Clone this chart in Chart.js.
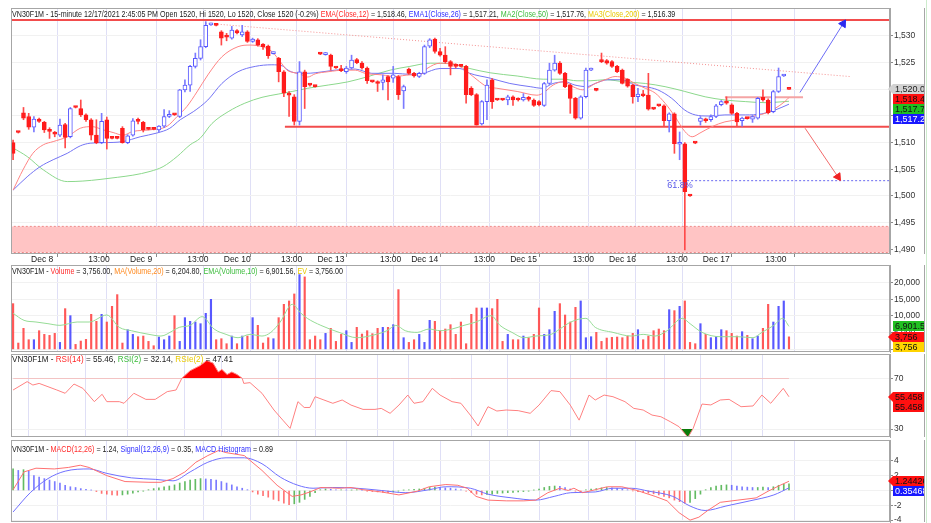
<!DOCTYPE html>
<html>
<head>
<meta charset="utf-8">
<title>VN30F1M 15-minute</title>
<script src="https://cdn.jsdelivr.net/npm/chart.js@4.4.1/dist/chart.umd.min.js"></script>
<style>
  html, body { margin: 0; padding: 0; background: #fff; }
  body { position: relative; width: 931px; height: 523px; overflow: hidden; font-family: "Liberation Sans", Arial, sans-serif; }
  canvas { position: absolute; left: 0; }
  .ttl { position: absolute; left: 12px; font-size: 9px; line-height: 10px; white-space: nowrap; color: #222; transform-origin: 0 0; }
  .r { color: #ff2a2a; } .b { color: #3030ff; } .g { color: #3cbc3c; } .y { color: #e8c800; } .o { color: #ff8a20; }
  #edge { position: absolute; left: 926px; top: 0; width: 1px; height: 523px; background: #cdeccd; }
</style>
</head>
<body>
<div id="edge"></div>
<canvas id="price" width="931" height="266" style="top:0"></canvas>
<canvas id="vol" width="931" height="88" style="top:265px"></canvas>
<canvas id="rsi" width="931" height="85" style="top:353px"></canvas>
<canvas id="macd" width="931" height="85" style="top:438px"></canvas>
<div class="ttl" id="t0" style="top:9px">VN30F1M - 15-minute 12/17/2021 2:45:05 PM Open 1520, Hi 1520, Lo 1520, Close 1520 (-0.2%) <span class="r">EMA(Close,12)</span> = 1,518.46, <span class="b">EMA1(Close,26)</span> = 1,517.21, <span class="g">MA2(Close,50)</span> = 1,517.76, <span class="y">MA3(Close,200)</span> = 1,516.39</div>
<div class="ttl" id="t1" style="top:266px">VN30F1M - <span class="r">Volume</span> = 3,756.00, <span class="o">MA(Volume,20)</span> = 6,204.80, <span class="g">EMA(Volume,10)</span> = 6,901.56, <span class="y">EV</span> = 3,756.00</div>
<div class="ttl" id="t2" style="top:354px">VN30F1M - <span class="r">RSI(14)</span> = 55.46, <span class="g">RSI(2)</span> = 32.14, <span class="y">RSIe(2)</span> = 47.41</div>
<div class="ttl" id="t3" style="top:444px">VN30F1M - <span class="r">MACD(12,26)</span> = 1.24, <span class="b">Signal(12,26,9)</span> = 0.35, <span class="b">MACD Histogram</span> = 0.89</div>
<script>
// x axis labels (bar index where the label sits)
const tickPos = [3, 14, 22, 33, 40, 51, 58, 70, 76, 88, 95, 107, 114, 125, 132, 144];
const tickText = ['Dec 8', '13:00', 'Dec 9', '13:00', 'Dec 10', '13:00', 'Dec 13', '13:00', 'Dec 14', '13:00', 'Dec 15', '13:00', 'Dec 16', '13:00', 'Dec 17', '13:00'];

// 15-minute candles
const opens = [1510,1512,1515.6,1514.9,1512.9,1514.4,1513.8,1512.5,1511.9,1511.4,
  1513.4,1511.1,1516.7,1516.4,1515.2,1514.3,1511.4,1510,1514.3,1510.9,
  1510.9,1512.7,1510,1511.4,1514.3,1513.8,1512.6,1512.6,1512.4,1513.1,
  1514.9,1515.3,1514.9,1519.9,1520.8,1524.3,1525.8,1528,1532.1,1532.1,
  1530.8,1530,1529.6,1531,1530.2,1530.8,1529,1529.3,1528.5,1528.1,
  1526.7,1525.8,1523.3,1519.2,1518.6,1514,1523.3,1520.9,1520.6,1526.7,
  1526.5,1526.4,1524.1,1523.6,1523.3,1524,1525.6,1524.9,1524,1521.5,
  1521.4,1521.3,1522.4,1522.1,1522.4,1519.7,1523.8,1523,1522.4,1523,
  1528.1,1529.4,1527.1,1526.4,1525.2,1524.6,1524.4,1524.3,1520.2,1519,
  1513.5,1517.7,1521.8,1518.1,1518.1,1518,1518.6,1518.2,1518,1518.5,
  1518,1517.7,1517,1521.1,1523.6,1524.9,1523,1520.8,1518.3,1514.6,
  1518.6,1523.6,1520,1525.5,1525.4,1525.2,1524.3,1523.6,1521.9,1520.8,
  1518.6,1519.1,1518.9,1516.4,1517,1516.9,1514.1,1515.4,1509.7,1509.8,
  1500.1,1510,1514,1514.4,1514.3,1514.9,1517.1,1517.7,1517.1,1515.5,
  1514.1,1514.6,1514.4,1514.6,1518.5,1518,1515.8,1519.6,1522.5,1520];
const highs = [1510.5,1512.1,1516.6,1515.5,1514.9,1514.6,1514,1512.8,1512.1,1514.4,
  1513.6,1516.6,1516.8,1518,1515.4,1514.5,1514.3,1515.5,1514.8,1511,
  1511,1513,1511.5,1514.5,1514.6,1514,1512.7,1512.7,1513.2,1516.2,
  1516,1515.4,1520,1521.8,1524.5,1526.8,1529.3,1532.7,1532.4,1532.2,
  1531,1530.5,1531.8,1531.2,1532,1531,1529.6,1529.5,1528.6,1528.3,
  1527,1526,1523.5,1519.6,1519,1525.2,1523.6,1521,1520.7,1526.8,
  1526.9,1526.6,1524.2,1524.5,1524.3,1526.4,1525.8,1525.2,1524.2,1521.6,
  1521.6,1522.7,1522.6,1524.3,1522.6,1520.8,1524,1523.2,1523.2,1528.3,
  1529.5,1529.6,1527.7,1528,1525.4,1524.8,1524.5,1524.5,1520.5,1519.2,
  1517.9,1521.8,1522,1518.2,1518.2,1518.9,1518.8,1518.4,1519.2,1518.7,
  1518.2,1517.9,1521.3,1524.9,1526.4,1525.2,1523.2,1521,1518.5,1518.8,
  1524,1524,1520.1,1526.8,1525.6,1525.4,1524.5,1523.8,1522,1521,
  1520.2,1519.8,1523,1516.5,1517.1,1517.1,1515.6,1515.6,1512,1510,
  1500.2,1510.1,1514.9,1514.6,1515.2,1517.2,1517.9,1518.6,1517.3,1515.7,
  1514.8,1514.7,1515.1,1518.5,1519.9,1518.2,1519.8,1524,1522.8,1520];
const lows = [1506.8,1511.8,1514.3,1512.5,1512,1513.8,1511.9,1510.8,1511.1,1511.1,
  1509,1510.9,1516.5,1514.9,1514,1510.5,1509.8,1509.8,1508.8,1510.7,
  1510.7,1509.9,1509.8,1511.2,1513.5,1512,1512.4,1512.4,1512,1512.8,
  1514.7,1515.1,1514.7,1519.5,1519.6,1524,1525.5,1527.8,1532,1531.9,
  1528.3,1529.1,1529.4,1530.4,1529.9,1528.8,1528.8,1528.1,1527.5,1525.8,
  1526.6,1521.4,1518.6,1514.9,1513.3,1513.3,1516.4,1520.6,1520.4,1526.5,
  1526.4,1523.6,1523.9,1523.3,1523,1523.8,1524.8,1523.8,1521.1,1521.3,
  1519.6,1519.9,1518,1521.3,1518.1,1516.4,1522.8,1522.3,1522.2,1522.8,
  1527.8,1526.8,1526.2,1524.9,1522.7,1524,1524.2,1517.4,1518.8,1513.3,
  1513.3,1514.3,1516.4,1517.9,1517.9,1517.1,1517,1517.8,1517.8,1517.8,
  1516.8,1516.9,1516.8,1520.9,1523.4,1522.8,1520.3,1515.5,1514.4,1514.4,
  1518.4,1523.5,1519.7,1525,1524.7,1524.1,1523.1,1521,1520.4,1517.4,
  1517.7,1518.6,1516.1,1516.2,1516.8,1513.1,1512,1508,1506.8,1489.9,
  1499.9,1509.8,1513.3,1513.8,1514,1514.7,1516.9,1517.2,1515.3,1513,
  1513.1,1514.4,1513.8,1514.4,1517.8,1515.4,1515.6,1519.4,1522.4,1520];
const closes = [1508,1511.9,1514.6,1512.9,1514.4,1514,1512.4,1512.1,1511.6,1513.3,
  1511,1516.4,1516.6,1515.2,1514.3,1511.4,1510,1514,1510.8,1510.8,
  1510.8,1510,1511.3,1514.1,1514,1512.4,1512.5,1512.5,1513.1,1514.9,
  1515.3,1515.2,1519.9,1520.8,1524.3,1525.8,1528,1532,1532.3,1532,
  1529.6,1529.8,1531.1,1530.6,1530.8,1529,1529.4,1528.3,1528,1526.3,
  1526.9,1523.3,1519.3,1518.9,1514,1523.3,1520.5,1520.8,1520.5,1526.6,
  1526.8,1524.3,1524,1523.5,1524,1525.5,1525,1524,1521.6,1521.4,
  1521.1,1521.8,1521.4,1522.7,1519,1520.5,1523,1522.5,1523,1528,
  1529.3,1527.1,1526.4,1525.2,1524.3,1524.3,1524.3,1519,1519,1513.3,
  1517.7,1520.8,1517.7,1518,1518,1518.6,1518,1518,1518.5,1518.1,
  1517,1517.1,1521.1,1523.6,1524.9,1523,1520.5,1518.3,1514.6,1518.6,
  1523.6,1523.9,1519.8,1525.2,1524.9,1524.3,1523.3,1521.1,1520.6,1518.6,
  1519.1,1518.8,1516.3,1516.3,1516.9,1514.1,1515.4,1509.8,1510,1500.8,
  1500,1509.9,1514.6,1514.1,1514.9,1516.9,1517.7,1517.4,1515.5,1513.9,
  1514.6,1514.5,1514.9,1518.3,1518,1515.6,1519.6,1522.4,1522.7,1520];

const ema12 = [[0,1501.1],[1.9,1504.9],[3.8,1508],[5.8,1509.6],[7.7,1510.2],[10.4,1511.1],[12.9,1512.7],[15.2,1513],[17.3,1512.4],[19.2,1511.9],[21.1,1511.4],[23,1512.1],[26.3,1512.4],[29.6,1513.1],[31.5,1514.9],[33.4,1516.8],[35.3,1519.5],[37.4,1522.7],[40.1,1526.1],[43.2,1528],[45.5,1528.3],[47.8,1528],[49.7,1527.1],[51.3,1525.2],[52.6,1523.6],[54.1,1523.1],[55.5,1522.7],[56.6,1522.3],[58,1522.9],[60.5,1523.3],[63.7,1523.6],[65.7,1523.6],[67.6,1523],[70.9,1522.7],[73.3,1522.4],[76.2,1522.7],[78.1,1522.7],[79.5,1523.9],[82,1524.9],[85.3,1524.6],[87.2,1523.3],[89.1,1521.8],[91,1520.5],[92.9,1520.2],[96.8,1519.6],[100.6,1518.9],[101.8,1519.3],[103.7,1520.8],[105.6,1521.4],[107.5,1520.5],[109.4,1519.9],[110.8,1520.5],[111.8,1521.1],[113.7,1521.8],[115.6,1522.4],[117.5,1522.1],[119.4,1521.1],[121.4,1520.2],[123.3,1519.3],[125.2,1517.4],[127.1,1514.9],[129,1512.1],[130.4,1511.1],[131.9,1511.8],[134.2,1513],[136.7,1513.9],[139.2,1514.3],[141.9,1514.9],[144.4,1515.5],[146.3,1516.4],[148.2,1517.7],[149,1518.46]];
const ema26 = [[0,1501.1],[2.7,1503.6],[5.2,1505.5],[7.7,1506.8],[10.4,1508],[12.9,1509.4],[14.8,1509.9],[17.3,1510],[21.1,1510.2],[24.4,1511.1],[27.6,1511.8],[30.1,1512.7],[32.1,1514.3],[34.6,1515.8],[37.4,1518],[40.1,1521.1],[43.2,1523.3],[46.5,1524.3],[49.7,1524.6],[51.7,1524.4],[52.8,1523.6],[54.1,1523.1],[56.1,1523],[58,1523.1],[61.8,1523.6],[65.7,1523.8],[68.9,1523],[73.3,1523],[76.2,1522.8],[78.7,1523],[82,1523.9],[85.8,1523.9],[87.7,1523],[91.6,1522.1],[95.4,1521.1],[99.3,1520.5],[101.6,1520.2],[103.7,1521.1],[106,1521.4],[107.9,1520.8],[110.2,1520.5],[111.8,1521.1],[114.2,1521.8],[116.9,1521.8],[119.4,1520.8],[121.4,1520.5],[123.8,1519.9],[126.5,1518.3],[129,1516.1],[131,1515.2],[133.5,1515],[136.7,1515.2],[140.6,1515.2],[143.8,1515.4],[146.3,1516.1],[149,1517.21]];
const ma50 = [[0,1509],[2.7,1507.4],[5.8,1504.9],[10.4,1502.7],[13.4,1502.8],[16.7,1503.1],[20,1503.5],[23,1503.9],[26.3,1504.6],[28.8,1505.5],[31.5,1507.4],[34,1509.6],[35.9,1510.8],[38.2,1513.6],[41.3,1515.8],[44.5,1517.4],[47.8,1518.5],[50.9,1519.1],[53.6,1519.6],[56.6,1520.2],[60.5,1520.8],[64.3,1521.4],[68.2,1522.4],[72.4,1523.6],[76.2,1524.3],[80.1,1524.9],[83.9,1524.8],[87.7,1523.9],[91.6,1523.1],[96.8,1522.5],[101.8,1521.9],[105.6,1521.9],[108.3,1521.6],[110.8,1521.6],[113.7,1521.8],[117.5,1521.4],[121.4,1521.1],[125.2,1520.5],[129,1519.6],[132.9,1518.6],[136.7,1518],[140.6,1517.7],[144.4,1517.5],[149,1517.76]];

// drawn levels on the price pane
const resistance = 1533;
const support = [52.2, 1513];
const fibLevel = [125.6, 1502.87];
const zone = [1489.4, 1494.3];
const trendLine = [[37, 1532.4], [160.7, 1522.4]];
const upArrow = [[151.1, 1519.4], [159.4, 1532.3]];
const downArrow = [[152.1, 1512.7], [158.4, 1503.6]];
const breakLine = [[136.7, 1518.5], [151.7, 1518.5]];
const priceTicks = [1490, 1495, 1500, 1505, 1510, 1515, 1520, 1525, 1530];

// volume pane
const volume = [13700,1900,6300,2900,2900,5600,4500,4200,4800,2100,
  12200,10100,1500,2500,3000,10500,8400,10500,8200,12900,
  16400,1900,5900,4500,3800,4000,2400,1100,3700,2900,
  4000,10100,2400,9500,8400,8200,7700,10800,15000,2900,
  3200,1700,4000,1700,4000,4000,9500,7200,1900,3500,
  3200,9500,13500,14500,16600,22400,21700,2900,4000,2900,
  4800,6300,2400,4500,5600,2100,6600,4600,5600,4700,
  6300,6600,6600,7400,17900,3500,2100,2900,4500,2100,
  8700,8400,5600,6100,7400,4500,8200,1700,10500,12400,
  12400,12400,12200,15000,2400,4500,2900,2900,4000,3500,
  4500,12400,4500,5900,11400,13700,10300,8200,12600,14500,
  3500,3800,5100,2400,3400,3600,3700,3500,4000,4800,
  5900,2900,4000,5600,6100,5600,11900,11600,12900,14500,
  2100,1700,7700,4500,3500,3800,5900,5600,4800,4000,
  5300,4200,3200,4000,6300,13500,8200,12900,14500,3756];
const volEma = [[0,10800],[2.1,8700],[4.4,8200],[6.7,7700],[9,7200],[12.3,8200],[14.6,8200],[18,10300],[20.4,6600],[22.7,5600],[26.1,4500],[28.4,4000],[30.7,5600],[31.9,6600],[34,7200],[36.3,9800],[38.6,6100],[40.9,4500],[43.2,3500],[45.5,4500],[47.8,4000],[49.5,5100],[51.3,8200],[53.6,13500],[55.3,10800],[56.5,9300],[59.1,7200],[62.6,5100],[66,3500],[68.4,4000],[71.8,5600],[73.5,7200],[75.3,5600],[77.6,5100],[79.9,6100],[82,5600],[84.3,6100],[86.6,7200],[88.9,8200],[91.8,10100],[93.5,7200],[95.8,5100],[98.1,3500],[100.4,4000],[103.3,4500],[105,6100],[107.1,8200],[110,9300],[111.8,6600],[115.2,5100],[118.7,4000],[121,4500],[123.3,4000],[125.6,5600],[128.5,9300],[130,7700],[132.3,5100],[135.8,3800],[139.2,3800],[142.1,3500],[143.8,5100],[146.1,7200],[147.8,9300],[149,6901.56]];
const volTicks = [0, 5000, 10000, 15000, 20000];

// RSI(14)
const rsi14 = [[0,60.8],[2.7,67.4],[3.8,64.7],[5,66],[6.7,63.4],[8.4,60.8],[10,58.2],[11.7,65.5],[13.4,62.1],[15.6,51.6],[17.1,57.4],[18,51.6],[20.4,51.6],[21.3,50.3],[23.2,58.2],[25.5,53.4],[27.3,53.4],[29.6,59.5],[31.3,60.8],[32.4,70],[34,76],[35.9,80],[37.2,84],[38.4,82],[39.4,75],[40.1,77],[41.1,73],[42,75],[43,73],[44,70],[44.3,66],[45.5,66.6],[47.8,58.2],[50.1,45],[51.8,37],[53.2,30.5],[54.7,51.6],[55.9,47],[57,47],[58,55.5],[59.7,52.9],[61.4,50.3],[63.2,52.9],[64.9,48.9],[67.2,45.5],[69.5,45.5],[70.7,46.3],[72.4,42.4],[74.1,48.9],[75.8,56.8],[77,50.3],[78.7,51.6],[80.5,62.1],[82,56.8],[84.3,51.6],[86,50.3],[87.8,41],[89.3,32.4],[91.2,47.6],[92.9,44.2],[94.7,45],[97,44.5],[99.3,42.4],[101,48.9],[103.3,60.3],[105,59.5],[107,48.9],[108.7,37],[110.6,56.8],[111.8,52.9],[113.5,56.8],[115.2,55.5],[117.5,51.6],[119.2,46.3],[121,45],[122.7,41],[124.4,39.7],[126.2,35.8],[127.9,31.8],[129.6,23.4],[130.6,30.5],[132.3,49.7],[134,49],[135.8,52.9],[137.5,53.4],[139.8,47.6],[142.1,48.2],[143.8,56.8],[145.5,50.3],[147.9,62.1],[149,55.46]];
const rsiTicks = [30, 70];

// MACD(12,26) and signal
const macdLine = [[0,0.1],[2.1,2.5],[4.4,3],[7.9,2.9],[10.6,3.1],[12.9,3.4],[14.6,3.1],[18,2],[21.5,1.2],[26.1,1.1],[28.4,1.1],[30.7,1.6],[33,2.5],[35.1,3.8],[37.4,4.7],[39.5,5.4],[40.9,5.1],[44.4,4.7],[47.8,2.7],[50.7,0.7],[53.6,-0.8],[55.3,-0.6],[57,-0.2],[59.1,0.4],[62.6,0.3],[64.9,0.4],[67.2,0.1],[70.7,-0.2],[74.1,-0.6],[77.6,-0.1],[79.9,0.5],[83.1,0.8],[85.4,0.7],[87.2,0.3],[88.9,-0.8],[91.2,-1.3],[94.7,-1.4],[98.1,-1.4],[100.4,-1.3],[102.7,-0.3],[105,0.3],[106.6,0],[107.7,0.3],[109.4,-0.3],[111.8,0.1],[114.1,0.5],[116.9,0.5],[119.8,0],[123.3,-0.8],[125.6,-1.4],[127.9,-3],[130,-4],[131.7,-3.6],[133.4,-2.7],[135.8,-1.6],[139.2,-1.3],[142.7,-1],[145,-0.1],[147.3,0.7],[149,1.24]];
const signalLine = [[0,-2.9],[3.3,-0.3],[6.7,1.6],[10,2.6],[14.6,2.9],[18,2.3],[22.7,1.7],[27.3,1.5],[30.7,1.3],[34,2.5],[37.4,3.8],[40.9,4.4],[44.4,4.4],[47.8,3.6],[51.3,1.8],[54.7,0.7],[57.6,0.3],[61.4,0.4],[66,0.3],[70.7,0],[75.3,-0.3],[79.9,0.1],[83.1,0.5],[87.8,0.3],[91.2,-0.5],[95.8,-1],[100.4,-1.3],[103.9,-0.8],[107.1,-0.3],[111.8,-0.2],[115.2,0.3],[118.7,0.3],[122.1,-0.1],[126.7,-0.8],[130,-2.1],[132.9,-2.7],[136.9,-2.1],[141.5,-1.4],[146.1,-0.6],[149,0.35]];
const macdHist = [2.9,2.7,2.8,2.6,2,1.8,1.6,1.4,1.2,1,
  0.7,0.5,0.4,0.25,0.15,0.05,-0.15,-0.4,-0.5,-0.6,
  -0.65,-0.6,-0.5,-0.35,-0.2,-0.1,0.1,0.25,0.35,0.5,
  0.6,0.75,1,1.2,1.4,1.5,1.6,1.55,1.5,1.4,
  1.2,1,0.75,0.5,0.3,0.1,-0.2,-0.5,-0.7,-0.9,
  -1.2,-1.4,-1.7,-1.9,-1.8,-1.6,-1.2,-0.8,-0.3,0.1,
  0.2,0.15,0.1,0.1,0.05,0.05,0.1,0.05,-0.1,-0.15,
  -0.2,-0.25,-0.3,-0.2,-0.1,0.05,0.1,0.15,0.2,0.3,
  0.4,0.45,0.4,0.35,0.3,0.2,0.1,-0.1,-0.3,-0.5,
  -0.6,-0.55,-0.5,-0.4,-0.35,-0.3,-0.25,-0.2,-0.15,-0.1,
  0.05,0.2,0.4,0.55,0.6,0.55,0.4,0.2,-0.1,-0.2,
  0.1,0.2,0.25,0.35,0.4,0.35,0.3,0.2,0.1,-0.05,
  -0.15,-0.25,-0.35,-0.45,-0.6,-0.8,-1,-1.3,-1.5,-1.7,
  -1.6,-1.1,-0.5,0.1,0.4,0.6,0.7,0.75,0.7,0.6,
  0.5,0.45,0.4,0.4,0.45,0.4,0.5,0.7,0.85,0.89];
const macdTicks = [-4, -2, 0, 2, 4];

// last values shown in the right-hand boxes
const priceTags = [[1520, '1,520.00'], [1518.46, '1,518.46'], [1517.76, '1,517.76'], [1517.21, '1,517.21']];
const volTags = [[6901.56, '6,901.56'], [3756, '3,756'], [3756, '3,756']];
const rsiTags = [[55.458, '55.458'], [55.458, '55.458']];
const macdTags = [[1.24426, '1.24426'], [0.35468, '0.35468']];

const FONT = '"Liberation Sans", Arial, sans-serif';
Chart.defaults.font.family = FONT;
Chart.defaults.font.size = 9;
Chart.defaults.color = '#333';
Chart.defaults.animation = false;

const UP = '#5858ff', DN = '#ff1c1c';
const bars = closes.map((c, i) => i);
const isUp = i => closes[i] > opens[i];
const pts = a => a.map(([x, y]) => ({ x, y }));
const X0 = -0.4, X1 = 168.4;

const framePlugin = {
  id: 'frame',
  afterDraw(chart) {
    const { ctx, chartArea: a } = chart;
    ctx.save();
    ctx.strokeStyle = '#a6a6a6';
    ctx.lineWidth = 1;
    ctx.strokeRect(a.left + 0.5, a.top + 0.5, a.width - 1, a.height - 1);
    ctx.beginPath();
    ctx.moveTo(924.5, a.top);
    ctx.lineTo(924.5, a.bottom);
    ctx.stroke();
    ctx.restore();
  }
};

// coloured value boxes on the right axis, pushed apart so they never overlap
const tagPlugin = {
  id: 'tags',
  afterDraw(chart, args, opts) {
    const ctx = chart.ctx, y = chart.scales.y, x0 = chart.chartArea.right;
    let prev = -1e9;
    ctx.save();
    ctx.font = '9px ' + FONT;
    ctx.textBaseline = 'middle';
    opts.items.forEach(([v, text], k) => {
      const st = opts.styles[k];
      const py = Math.round(Math.max(y.getPixelForValue(v), prev + 10));
      prev = py;
      ctx.fillStyle = st.bg;
      ctx.fillRect(x0 + 3, py - 5, 31, 10);
      if (st.arrow) {
        ctx.beginPath();
        ctx.moveTo(x0 - 2, py);
        ctx.lineTo(x0 + 3, py - 5);
        ctx.lineTo(x0 + 3, py + 5);
        ctx.closePath();
        ctx.fill();
      }
      ctx.save();
      ctx.beginPath();
      ctx.rect(x0 + 3, py - 5, 31, 10);
      ctx.clip();
      ctx.fillStyle = st.fg;
      ctx.fillText(text, x0 + 5, py + 0.5);
      ctx.restore();
    });
    ctx.restore();
  }
};

// level captions on the price pane
const notePlugin = {
  id: 'notes',
  afterDatasetsDraw(chart, args, opts) {
    const ctx = chart.ctx, xs = chart.scales.x, ys = chart.scales.y, a = chart.chartArea;
    ctx.save();
    ctx.font = '9px ' + FONT;
    ctx.textBaseline = 'middle';
    opts.items.forEach(n => {
      ctx.fillStyle = n.color;
      ctx.textAlign = n.at == null ? 'right' : 'left';
      const px = n.at == null ? a.right - n.inset : xs.getPixelForValue(n.at);
      ctx.fillText(n.text, px, ys.getPixelForValue(n.v) + n.dy);
    });
    ctx.restore();
  }
};

function xAxis(labels) {
  return {
    type: 'linear', min: X0, max: X1, offset: false,
    afterBuildTicks: s => { s.ticks = tickPos.map(v => ({ value: v })); },
    afterFit: s => { s.height = labels ? 12 : 0; s.paddingLeft = 0; s.paddingRight = 0; },
    border: { display: false },
    grid: { color: 'rgba(196,196,238,0.55)', drawTicks: labels, tickLength: 3, tickColor: '#8a8a8a' },
    ticks: {
      display: labels, autoSkip: false, maxRotation: 0, align: 'start', padding: -2,
      font: { size: 8.5 }, color: '#222', callback: (v, i) => ' ' + tickText[i]
    }
  };
}

function yAxis(min, max, tickList, fmt) {
  return {
    position: 'right', min, max,
    afterBuildTicks: s => { s.ticks = tickList.map(v => ({ value: v })); },
    afterFit: s => { s.width = 41; s.paddingTop = 0; s.paddingBottom = 0; },
    border: { display: true, color: '#a6a6a6' },
    grid: { color: '#f1f1f1', tickLength: 3, tickColor: '#8a8a8a' },
    ticks: { padding: 1, font: { size: 8.5 }, color: '#333', callback: fmt }
  };
}

const flat = (v, from, color, dash, width) => ({
  type: 'line', data: pts([[from, v], [X1 + 1, v]]), borderColor: color, borderWidth: width,
  borderDash: dash, pointRadius: 0, order: 5
});

const baseOpts = (pad) => ({
  responsive: false,
  layout: { padding: pad },
  events: []
});
const noChrome = { legend: { display: false }, tooltip: { enabled: false } };

// price pane
new Chart(document.getElementById('price'), {
  type: 'line',
  data: {
    datasets: [
      { type: 'bar', data: bars.map(i => ({ x: i, y: [opens[i], closes[i]] })),
        backgroundColor: bars.map(i => isUp(i) ? '#ffffff' : DN),
        borderColor: bars.map(i => isUp(i) ? UP : DN),
        borderWidth: 1, borderSkipped: false, barThickness: 4, minBarLength: 2, grouped: false, order: 1 },
      { type: 'bar', data: bars.map(i => ({ x: i, y: [lows[i], highs[i]] })),
        backgroundColor: bars.map(i => isUp(i) ? '#7b7bff' : '#ff4a4a'),
        barThickness: 1, grouped: false, order: 2 },
      { data: pts(ema12), borderColor: '#ff8484', borderWidth: 1, pointRadius: 0, cubicInterpolationMode: 'monotone', order: 4 },
      { data: pts(ema26), borderColor: '#7474f4', borderWidth: 1, pointRadius: 0, cubicInterpolationMode: 'monotone', order: 4 },
      { data: pts(ma50), borderColor: '#8cd88c', borderWidth: 1, pointRadius: 0, cubicInterpolationMode: 'monotone', order: 4 },
      flat(resistance, X0 - 1, '#f24c4c', [], 2),
      flat(support[1], support[0], '#f24c4c', [], 2),
      flat(fibLevel[1], fibLevel[0], '#6a6af0', [2, 2], 1),
      { data: pts(trendLine), borderColor: '#f49090', borderWidth: 1, borderDash: [1, 2], pointRadius: 0, order: 5 },
      { data: pts(breakLine), borderColor: '#f4a4a4', borderWidth: 2, pointRadius: 0, order: 5 },
      { data: pts(upArrow), borderColor: '#6c6cf6', borderWidth: 1, pointRadius: [0, 4.5], pointStyle: 'triangle',
        rotation: 32, pointBackgroundColor: '#2a2af0', pointBorderColor: '#2a2af0', order: 3 },
      { data: pts(downArrow), borderColor: '#f26a6a', borderWidth: 1, pointRadius: [0, 4.5], pointStyle: 'triangle',
        rotation: 146, pointBackgroundColor: '#f02020', pointBorderColor: '#f02020', order: 3 },
      Object.assign(flat(zone[1], X0 - 1, '#f08a8a', [2, 2], 1), { order: 10 }),
      Object.assign(flat(zone[0], X0 - 1, '#f08a8a', [2, 2], 1), { order: 10, fill: '-1', backgroundColor: '#ffc4c4' })
    ]
  },
  options: Object.assign(baseOpts({ top: 8, left: 11, right: 0, bottom: 0 }), {
    scales: {
      x: xAxis(true),
      y: yAxis(1489.12, 1535.25, priceTicks, v => v.toLocaleString('en-US'))
    },
    plugins: Object.assign({}, noChrome, {
      notes: { items: [
        { v: resistance, text: '1533', color: '#f04848', inset: 9, dy: -6 },
        { v: support[1], text: '1513', color: '#f04848', inset: 10, dy: 7.5 },
        { v: fibLevel[1], text: '1502.87', color: '#5858e8', inset: 2, dy: 5 },
        { v: fibLevel[1], text: '61.8%', color: '#5858e8', at: fibLevel[0], dy: 5 },
        { v: (zone[0] + zone[1]) / 2, text: '1490-1494', color: '#f04848', inset: 2, dy: 1 }
      ] },
      tags: { items: priceTags, styles: [
        { bg: '#d2d2d2', fg: '#222', arrow: true },
        { bg: '#ff1010', fg: '#111' },
        { bg: '#20c020', fg: '#111' },
        { bg: '#1818ff', fg: '#fff' }
      ] }
    })
  }),
  plugins: [framePlugin, notePlugin, tagPlugin]
});

// volume pane
new Chart(document.getElementById('vol'), {
  type: 'line',
  data: {
    datasets: [
      { type: 'bar', data: bars.map(i => ({ x: i, y: volume[i] })),
        backgroundColor: bars.map(i => isUp(i) ? 'rgba(70,70,255,0.9)' : 'rgba(255,70,70,0.9)'),
        barThickness: 1.5, grouped: false, order: 2 },
      { data: pts(volEma), borderColor: '#96dc96', borderWidth: 1, pointRadius: 0, cubicInterpolationMode: 'monotone', order: 1 }
    ]
  },
  options: Object.assign(baseOpts({ top: 0, left: 11, right: 0, bottom: 1 }), {
    scales: {
      x: xAxis(false),
      y: yAxis(-780, 25270, volTicks, v => v.toLocaleString('en-US'))
    },
    plugins: Object.assign({}, noChrome, {
      tags: { items: volTags, styles: [
        { bg: '#22c022', fg: '#111' },
        { bg: '#ff1010', fg: '#111', arrow: true },
        { bg: '#ffd400', fg: '#111' }
      ] }
    })
  }),
  plugins: [framePlugin, tagPlugin]
});

// RSI pane
new Chart(document.getElementById('rsi'), {
  type: 'line',
  data: {
    datasets: [
      { data: pts(rsi14), borderColor: '#ff8080', borderWidth: 1, pointRadius: 0,
        fill: { target: { value: 70 }, above: '#ff0000', below: 'rgba(0,0,0,0)' } },
      { data: pts(rsi14), borderWidth: 0, borderColor: 'rgba(0,0,0,0)', pointRadius: 0,
        fill: { target: { value: 30 }, above: 'rgba(0,0,0,0)', below: '#0a7a0a' } }
    ]
  },
  options: Object.assign(baseOpts({ top: 1, left: 11, right: 0, bottom: 1 }), {
    scales: {
      x: xAxis(false),
      y: yAxis(23.7, 89.2, rsiTicks, v => v)
    },
    plugins: Object.assign({}, noChrome, {
      tags: { items: rsiTags, styles: [
        { bg: '#ff1010', fg: '#111', arrow: true },
        { bg: '#ff1010', fg: '#111' }
      ] }
    })
  }),
  plugins: [framePlugin, tagPlugin]
});

// MACD pane
new Chart(document.getElementById('macd'), {
  type: 'line',
  data: {
    datasets: [
      { type: 'bar', data: bars.map(i => ({ x: i, y: macdHist[i] })),
        backgroundColor: bars.map(i => {
          const d = macdHist[i] - (i ? macdHist[i - 1] : 0);
          return d >= 0 ? 'rgba(60,170,60,0.8)' : (macdHist[i] > 0 ? 'rgba(90,90,255,0.8)' : 'rgba(255,80,80,0.8)');
        }),
        barThickness: 1, grouped: false, order: 3 },
      { data: pts(macdLine), borderColor: '#ff7070', borderWidth: 1, pointRadius: 0, order: 1 },
      { data: pts(signalLine), borderColor: '#7070ff', borderWidth: 1, pointRadius: 0, cubicInterpolationMode: 'monotone', order: 2 }
    ]
  },
  options: Object.assign(baseOpts({ top: 2, left: 11, right: 0, bottom: 1 }), {
    scales: {
      x: xAxis(false),
      y: yAxis(-4.25, 6.8, macdTicks, v => v)
    },
    plugins: Object.assign({}, noChrome, {
      tags: { items: macdTags, styles: [
        { bg: '#ff1010', fg: '#111', arrow: true },
        { bg: '#1818ff', fg: '#fff' }
      ] }
    })
  }),
  plugins: [framePlugin, tagPlugin]
});

// squeeze pane titles to the narrow width used in the source
[['t0', 664], ['t1', 331], ['t2', 221], ['t3', 261]].forEach(([id, w]) => {
  const el = document.getElementById(id);
  el.style.transform = 'scaleX(' + (w / el.offsetWidth).toFixed(3) + ')';
});
</script>
</body>
</html>
